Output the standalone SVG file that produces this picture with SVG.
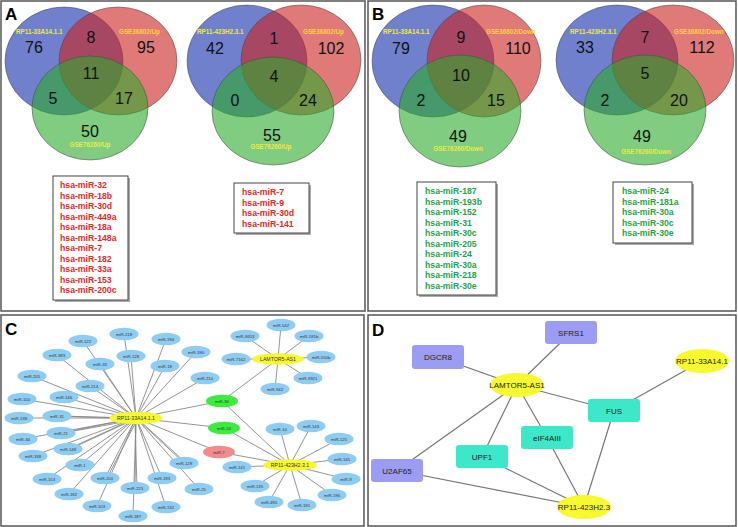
<svg xmlns="http://www.w3.org/2000/svg" width="738" height="527" viewBox="0 0 738 527">
<style>
.panel{fill:#fff;stroke:#555;stroke-width:1.5}
.plabel{font-family:"Liberation Sans",Arial,sans-serif;font-weight:bold;font-size:17px;fill:#000}
.vb{fill:#112bab;fill-opacity:0.6;stroke:#444;stroke-width:0.5}
.vr{fill:#cc211e;fill-opacity:0.6;stroke:#444;stroke-width:0.5}
.vg{fill:#2baa2b;fill-opacity:0.6;stroke:#444;stroke-width:0.5}
.num{font-family:"Liberation Sans",Arial,sans-serif;font-size:16px;fill:#111;text-anchor:middle}
.vl{font-family:"Liberation Sans",Arial,sans-serif;font-size:6.3px;font-weight:bold;fill:#eeea40}
.vlr{font-family:"Liberation Sans",Arial,sans-serif;font-size:6.3px;font-weight:bold;fill:#ffcf45}
.box{fill:#fff;stroke:#444;stroke-width:1}
.shadow{fill:#aaa}
.lr{font-family:"Liberation Sans",Arial,sans-serif;font-size:8.7px;font-weight:bold;fill:#e8262b}
.lg{font-family:"Liberation Sans",Arial,sans-serif;font-size:8.7px;font-weight:bold;fill:#1fa34a}
.edge{stroke:#888;stroke-width:0.9;fill:none}
.edgeD{stroke:#777;stroke-width:1.2;fill:none}
.nb{fill:#8ecdf1}
.ng{fill:#3cec3c}
.np{fill:#f28c8c}
.ny{fill:#f8f82e}
.nt{font-family:"Liberation Sans",Arial,sans-serif;font-size:4.3px;fill:#333;text-anchor:middle}
.ht{font-family:"Liberation Sans",Arial,sans-serif;font-size:5.2px;fill:#333;text-anchor:middle}
.dp{fill:#9c9cf2}
.dt{fill:#3de8c8}
.dtx{font-family:"Liberation Sans",Arial,sans-serif;font-size:8px;fill:#222;text-anchor:middle}
</style>

<!-- Panels -->
<rect class="panel" x="1" y="1" width="364" height="310"/>
<rect class="panel" x="368" y="1" width="368" height="310"/>
<rect class="panel" x="1" y="315" width="363" height="211"/>
<rect class="panel" x="368" y="315" width="368" height="211"/>

<!-- Panel A -->
<g id="panelA">
  <text class="plabel" x="5" y="20">A</text>
  <g id="vennA1">
    <ellipse class="vb" cx="64" cy="61" rx="59" ry="54"/>
    <ellipse class="vr" cx="118" cy="61" rx="59" ry="54"/>
    <ellipse class="vg" cx="90" cy="108" rx="58" ry="52"/>
    <text class="vl" x="16" y="34">RP11-33A14.1.1</text>
    <text class="vlr" x="119" y="34">GSE36802/Up</text>
    <text class="vl" x="90" y="147" text-anchor="middle">GSE76260/Up</text>
    <text class="num" x="34" y="53">76</text>
    <text class="num" x="91" y="43">8</text>
    <text class="num" x="146" y="53">95</text>
    <text class="num" x="91" y="79">11</text>
    <text class="num" x="53" y="104">5</text>
    <text class="num" x="124" y="104">17</text>
    <text class="num" x="90" y="137">50</text>
  </g>
  <g id="vennA2">
    <ellipse class="vb" cx="247" cy="61" rx="60" ry="56"/>
    <ellipse class="vr" cx="301" cy="60" rx="60" ry="55"/>
    <ellipse class="vg" cx="273" cy="111" rx="61" ry="54"/>
    <text class="vl" x="197" y="34">RP11-423H2.3.1</text>
    <text class="vlr" x="303" y="34">GSE36802/Up</text>
    <text class="vl" x="271" y="149" text-anchor="middle">GSE76260/Up</text>
    <text class="num" x="215" y="54">42</text>
    <text class="num" x="274" y="44">1</text>
    <text class="num" x="331" y="54">102</text>
    <text class="num" x="274" y="82">4</text>
    <text class="num" x="235" y="106">0</text>
    <text class="num" x="308" y="106">24</text>
    <text class="num" x="272" y="141">55</text>
  </g>
  <g id="listA1">
    <rect class="shadow" x="55" y="178" width="75" height="124"/>
    <rect class="box" x="53" y="176" width="75" height="124"/>
    <text class="lr" x="60" y="188">hsa-miR-32</text>
    <text class="lr" x="60" y="198.5">hsa-miR-18b</text>
    <text class="lr" x="60" y="209">hsa-miR-30d</text>
    <text class="lr" x="60" y="219.5">hsa-miR-449a</text>
    <text class="lr" x="60" y="230">hsa-miR-18a</text>
    <text class="lr" x="60" y="240.5">hsa-miR-148a</text>
    <text class="lr" x="60" y="251">hsa-miR-7</text>
    <text class="lr" x="60" y="261.5">hsa-miR-182</text>
    <text class="lr" x="60" y="272">hsa-miR-33a</text>
    <text class="lr" x="60" y="282.5">hsa-miR-153</text>
    <text class="lr" x="60" y="293">hsa-miR-200c</text>
  </g>
  <g id="listA2">
    <rect class="shadow" x="236" y="185" width="75" height="50"/>
    <rect class="box" x="234" y="183" width="75" height="50"/>
    <text class="lr" x="242" y="195">hsa-miR-7</text>
    <text class="lr" x="242" y="205.5">hsa-miR-9</text>
    <text class="lr" x="242" y="216">hsa-miR-30d</text>
    <text class="lr" x="242" y="226.5">hsa-miR-141</text>
  </g>
</g>

<!-- Panel B -->
<g id="panelB">
  <text class="plabel" x="372" y="20">B</text>
  <g id="vennB1">
    <ellipse class="vb" cx="433" cy="61" rx="61" ry="56"/>
    <ellipse class="vr" cx="484" cy="61" rx="57" ry="56"/>
    <ellipse class="vg" cx="460" cy="111" rx="61" ry="56"/>
    <text class="vl" x="383" y="34">RP11-33A14.1.1</text>
    <text class="vlr" x="486" y="34">GSE36802/Down</text>
    <text class="vl" x="458" y="151" text-anchor="middle">GSE76260/Down</text>
    <text class="num" x="401" y="54">79</text>
    <text class="num" x="461" y="43">9</text>
    <text class="num" x="518" y="54">110</text>
    <text class="num" x="461" y="81">10</text>
    <text class="num" x="421" y="106">2</text>
    <text class="num" x="496" y="106">15</text>
    <text class="num" x="458" y="142">49</text>
  </g>
  <g id="vennB2">
    <ellipse class="vb" cx="617" cy="60" rx="61" ry="55"/>
    <ellipse class="vr" cx="673" cy="60" rx="61" ry="55"/>
    <ellipse class="vg" cx="645" cy="110" rx="61" ry="55"/>
    <text class="vl" x="570" y="34">RP11-423H2.3.1</text>
    <text class="vlr" x="674" y="34">GSE36802/Down</text>
    <text class="vl" x="646" y="154" text-anchor="middle">GSE76260/Down</text>
    <text class="num" x="585" y="53">33</text>
    <text class="num" x="645" y="43">7</text>
    <text class="num" x="702" y="53">112</text>
    <text class="num" x="645" y="79">5</text>
    <text class="num" x="605" y="106">2</text>
    <text class="num" x="679" y="106">20</text>
    <text class="num" x="642" y="142">49</text>
  </g>
  <g id="listB1">
    <rect class="shadow" x="419" y="184" width="79" height="113"/>
    <rect class="box" x="417" y="182" width="79" height="113"/>
    <text class="lg" x="425" y="194">hsa-miR-187</text>
    <text class="lg" x="425" y="204.5">hsa-miR-193b</text>
    <text class="lg" x="425" y="215">hsa-miR-152</text>
    <text class="lg" x="425" y="225.5">hsa-miR-31</text>
    <text class="lg" x="425" y="236">hsa-miR-30c</text>
    <text class="lg" x="425" y="246.5">hsa-miR-205</text>
    <text class="lg" x="425" y="257">hsa-miR-24</text>
    <text class="lg" x="425" y="267.5">hsa-miR-30a</text>
    <text class="lg" x="425" y="278">hsa-miR-218</text>
    <text class="lg" x="425" y="288.5">hsa-miR-30e</text>
  </g>
  <g id="listB2">
    <rect class="shadow" x="615" y="184" width="79" height="61"/>
    <rect class="box" x="613" y="182" width="79" height="61"/>
    <text class="lg" x="622" y="194">hsa-miR-24</text>
    <text class="lg" x="622" y="204.5">hsa-miR-181a</text>
    <text class="lg" x="622" y="215">hsa-miR-30a</text>
    <text class="lg" x="622" y="225.5">hsa-miR-30c</text>
    <text class="lg" x="622" y="236">hsa-miR-30e</text>
  </g>
</g>

<!-- Panel C -->
<text class="plabel" x="5" y="335">C</text>
<g id="edgesC">
  <path class="edge" d="M136 418L83 341M136 418L124 334M136 418L166 339M136 418L57 355M136 418L100 364M136 418L131 356M136 418L165 366M136 418L196 352M136 418L205 378M136 418L32 376M136 418L90 386M136 418L22 399M136 418L64 397M136 418L19 418M136 418L57 416M136 418L23 439M136 418L61 433M136 418L33 456M136 418L68 449M136 418L80 465M136 418L47 479M136 418L105 478M136 418L69 494M136 418L135 488M136 418L162 478M136 418L97 506M136 418L133 516M136 418L166 507M136 418L184 463M136 418L199 489M136 418L222 401M136 418L224 428M136 418L219 452"/>
  <path class="edge" d="M134 419L59 416M134 420L63 433M137 420L107 478M135 420L137 488M138 419L186 463M135 419L70 449"/>
  <path class="edge" d="M278 359L245 336M278 359L281 325M278 359L309 336M278 359L236 359M278 359L321 357M278 359L308 378M278 359L275 389M278 359L222 401"/>
  <path class="edge" d="M290 465L280 429M290 465L311 426M290 465L339 439M290 465L342 459M290 465L346 479M290 465L332 495M290 465L302 505M290 465L269 502M290 465L255 486M290 465L237 467M290 465L222 401M290 465L224 428M290 465L219 452"/>
</g>
<g id="nodesC">
  <g id="miR-122"><ellipse class="nb" cx="83" cy="341" rx="14.5" ry="6.3"/><text class="nt" x="83" y="342.5">miR-122</text></g>
  <g id="miR-218"><ellipse class="nb" cx="124" cy="334" rx="14.5" ry="6.3"/><text class="nt" x="124" y="335.5">miR-218</text></g>
  <g id="miR-194"><ellipse class="nb" cx="166" cy="339" rx="14.5" ry="6.3"/><text class="nt" x="166" y="340.5">miR-194</text></g>
  <g id="miR-383"><ellipse class="nb" cx="57" cy="355" rx="14.5" ry="6.3"/><text class="nt" x="57" y="356.5">miR-383</text></g>
  <g id="miR-33"><ellipse class="nb" cx="100" cy="364" rx="14.5" ry="6.3"/><text class="nt" x="100" y="365.5">miR-33</text></g>
  <g id="miR-128"><ellipse class="nb" cx="131" cy="356" rx="14.5" ry="6.3"/><text class="nt" x="131" y="357.5">miR-128</text></g>
  <g id="miR-18"><ellipse class="nb" cx="165" cy="366" rx="14.5" ry="6.3"/><text class="nt" x="165" y="367.5">miR-18</text></g>
  <g id="miR-190"><ellipse class="nb" cx="196" cy="352" rx="14.5" ry="6.3"/><text class="nt" x="196" y="353.5">miR-190</text></g>
  <g id="miR-210"><ellipse class="nb" cx="205" cy="378" rx="14.5" ry="6.3"/><text class="nt" x="205" y="379.5">miR-210</text></g>
  <g id="miR-205"><ellipse class="nb" cx="32" cy="376" rx="14.5" ry="6.3"/><text class="nt" x="32" y="377.5">miR-205</text></g>
  <g id="miR-214"><ellipse class="nb" cx="90" cy="386" rx="14.5" ry="6.3"/><text class="nt" x="90" y="387.5">miR-214</text></g>
  <g id="miR-150"><ellipse class="nb" cx="22" cy="399" rx="14.5" ry="6.3"/><text class="nt" x="22" y="400.5">miR-150</text></g>
  <g id="miR-146"><ellipse class="nb" cx="64" cy="397" rx="14.5" ry="6.3"/><text class="nt" x="64" y="398.5">miR-146</text></g>
  <g id="miR-138"><ellipse class="nb" cx="19" cy="418" rx="14.5" ry="6.3"/><text class="nt" x="19" y="419.5">miR-138</text></g>
  <g id="miR-31"><ellipse class="nb" cx="57" cy="416" rx="14.5" ry="6.3"/><text class="nt" x="57" y="417.5">miR-31</text></g>
  <g id="miR-34"><ellipse class="nb" cx="23" cy="439" rx="14.5" ry="6.3"/><text class="nt" x="23" y="440.5">miR-34</text></g>
  <g id="miR-21"><ellipse class="nb" cx="61" cy="433" rx="14.5" ry="6.3"/><text class="nt" x="61" y="434.5">miR-21</text></g>
  <g id="miR-338"><ellipse class="nb" cx="33" cy="456" rx="14.5" ry="6.3"/><text class="nt" x="33" y="457.5">miR-338</text></g>
  <g id="miR-148"><ellipse class="nb" cx="68" cy="449" rx="14.5" ry="6.3"/><text class="nt" x="68" y="450.5">miR-148</text></g>
  <g id="miR-1"><ellipse class="nb" cx="80" cy="465" rx="14.5" ry="6.3"/><text class="nt" x="80" y="466.5">miR-1</text></g>
  <g id="miR-153"><ellipse class="nb" cx="47" cy="479" rx="14.5" ry="6.3"/><text class="nt" x="47" y="480.5">miR-153</text></g>
  <g id="miR-200"><ellipse class="nb" cx="105" cy="478" rx="14.5" ry="6.3"/><text class="nt" x="105" y="479.5">miR-200</text></g>
  <g id="miR-182"><ellipse class="nb" cx="69" cy="494" rx="14.5" ry="6.3"/><text class="nt" x="69" y="495.5">miR-182</text></g>
  <g id="miR-223"><ellipse class="nb" cx="135" cy="488" rx="14.5" ry="6.3"/><text class="nt" x="135" y="489.5">miR-223</text></g>
  <g id="miR-193"><ellipse class="nb" cx="162" cy="478" rx="14.5" ry="6.3"/><text class="nt" x="162" y="479.5">miR-193</text></g>
  <g id="miR-103"><ellipse class="nb" cx="97" cy="506" rx="14.5" ry="6.3"/><text class="nt" x="97" y="507.5">miR-103</text></g>
  <g id="miR-187"><ellipse class="nb" cx="133" cy="516" rx="14.5" ry="6.3"/><text class="nt" x="133" y="517.5">miR-187</text></g>
  <g id="miR-132"><ellipse class="nb" cx="166" cy="507" rx="14.5" ry="6.3"/><text class="nt" x="166" y="508.5">miR-132</text></g>
  <g id="miR-129"><ellipse class="nb" cx="184" cy="463" rx="14.5" ry="6.3"/><text class="nt" x="184" y="464.5">miR-129</text></g>
  <g id="miR-25"><ellipse class="nb" cx="199" cy="489" rx="14.5" ry="6.3"/><text class="nt" x="199" y="490.5">miR-25</text></g>
  <g id="miR-4653"><ellipse class="nb" cx="245" cy="336" rx="14.5" ry="6.3"/><text class="nt" x="245" y="337.5">miR-4653</text></g>
  <g id="miR-542"><ellipse class="nb" cx="281" cy="325" rx="14.5" ry="6.3"/><text class="nt" x="281" y="326.5">miR-542</text></g>
  <g id="miR-181b"><ellipse class="nb" cx="309" cy="336" rx="14.5" ry="6.3"/><text class="nt" x="309" y="337.5">miR-181b</text></g>
  <g id="miR-7162"><ellipse class="nb" cx="236" cy="359" rx="14.5" ry="6.3"/><text class="nt" x="236" y="360.5">miR-7162</text></g>
  <g id="miR-550b"><ellipse class="nb" cx="321" cy="357" rx="14.5" ry="6.3"/><text class="nt" x="321" y="358.5">miR-550b</text></g>
  <g id="miR-3921"><ellipse class="nb" cx="308" cy="378" rx="14.5" ry="6.3"/><text class="nt" x="308" y="379.5">miR-3921</text></g>
  <g id="miR-942"><ellipse class="nb" cx="275" cy="389" rx="14.5" ry="6.3"/><text class="nt" x="275" y="390.5">miR-942</text></g>
  <g id="miR-10"><ellipse class="nb" cx="280" cy="429" rx="14.5" ry="6.3"/><text class="nt" x="280" y="430.5">miR-10</text></g>
  <g id="miR-143"><ellipse class="nb" cx="311" cy="426" rx="14.5" ry="6.3"/><text class="nt" x="311" y="427.5">miR-143</text></g>
  <g id="miR-125"><ellipse class="nb" cx="339" cy="439" rx="14.5" ry="6.3"/><text class="nt" x="339" y="440.5">miR-125</text></g>
  <g id="miR-145"><ellipse class="nb" cx="342" cy="459" rx="14.5" ry="6.3"/><text class="nt" x="342" y="460.5">miR-145</text></g>
  <g id="miR-9"><ellipse class="nb" cx="346" cy="479" rx="14.5" ry="6.3"/><text class="nt" x="346" y="480.5">miR-9</text></g>
  <g id="miR-196"><ellipse class="nb" cx="332" cy="495" rx="14.5" ry="6.3"/><text class="nt" x="332" y="496.5">miR-196</text></g>
  <g id="miR-181"><ellipse class="nb" cx="302" cy="505" rx="14.5" ry="6.3"/><text class="nt" x="302" y="506.5">miR-181</text></g>
  <g id="miR-490"><ellipse class="nb" cx="269" cy="502" rx="14.5" ry="6.3"/><text class="nt" x="269" y="503.5">miR-490</text></g>
  <g id="miR-135"><ellipse class="nb" cx="255" cy="486" rx="14.5" ry="6.3"/><text class="nt" x="255" y="487.5">miR-135</text></g>
  <g id="miR-141"><ellipse class="nb" cx="237" cy="467" rx="14.5" ry="6.3"/><text class="nt" x="237" y="468.5">miR-141</text></g>
  <g id="miR-30"><ellipse class="ng" cx="222" cy="401" rx="16" ry="6.3"/><text class="nt" x="222" y="402.5">miR-30</text></g>
  <g id="miR-24"><ellipse class="ng" cx="224" cy="428" rx="16" ry="6.3"/><text class="nt" x="224" y="429.5">miR-24</text></g>
  <g id="miR-7"><ellipse class="np" cx="219" cy="452" rx="16" ry="6.3"/><text class="nt" x="219" y="453.5">miR-7</text></g>
  <g id="hub-RP11-33A14.1.1"><ellipse class="ny" cx="136" cy="418" rx="26.5" ry="6.3"/><text class="ht" x="136" y="419.8">RP11-33A14.1.1</text></g>
  <g id="hub-LAMTOR5-AS1"><ellipse class="ny" cx="278" cy="359" rx="26" ry="5.8"/><text class="ht" x="278" y="360.8">LAMTOR5-AS1</text></g>
  <g id="hub-RP11-423H2.3.1"><ellipse class="ny" cx="290" cy="465" rx="27" ry="5.8"/><text class="ht" x="290" y="466.8">RP11-423H2.3.1</text></g>
</g>

<!-- Panel D -->
<text class="plabel" x="372" y="336">D</text>
<g id="edgesD">
  <path class="edgeD" d="M571 332.5L517 385M438 357L517 385M702 361L614 410.5M517 385L614 410.5M517 385L547 437.5M517 385L482 456.5M517 385L397 470.5M397 470.5L584 507M482 456.5L584 507M547 437.5L584 507M614 410.5L584 507"/>
</g>
<g id="nodesD">
  <g id="SFRS1"><rect class="dp" x="545" y="321" width="52" height="23" rx="3"/><text class="dtx" x="571" y="335.5">SFRS1</text></g>
  <g id="DGCR8"><rect class="dp" x="412" y="345" width="52" height="24" rx="3"/><text class="dtx" x="438" y="360">DGCR8</text></g>
  <g id="RP11-33A14.1"><ellipse class="ny" cx="702" cy="361" rx="27" ry="12"/><text class="dtx" x="702" y="364">RP11-33A14.1</text></g>
  <g id="LAMTOR5-AS1"><ellipse class="ny" cx="517" cy="385" rx="27" ry="12"/><text class="dtx" x="517" y="388">LAMTOR5-AS1</text></g>
  <g id="FUS"><rect class="dt" x="588" y="399" width="52" height="23" rx="3"/><text class="dtx" x="614" y="413.5">FUS</text></g>
  <g id="eIF4AIII"><rect class="dt" x="521" y="426" width="52" height="23" rx="3"/><text class="dtx" x="547" y="440.5">eIF4AIII</text></g>
  <g id="UPF1"><rect class="dt" x="456" y="445" width="52" height="23" rx="3"/><text class="dtx" x="482" y="459.5">UPF1</text></g>
  <g id="U2AF65"><rect class="dp" x="371" y="459" width="52" height="23" rx="3"/><text class="dtx" x="397" y="473.5">U2AF65</text></g>
  <g id="RP11-423H2.3"><ellipse class="ny" cx="584" cy="507" rx="27" ry="12"/><text class="dtx" x="584" y="510">RP11-423H2.3</text></g>
</g>
</svg>
